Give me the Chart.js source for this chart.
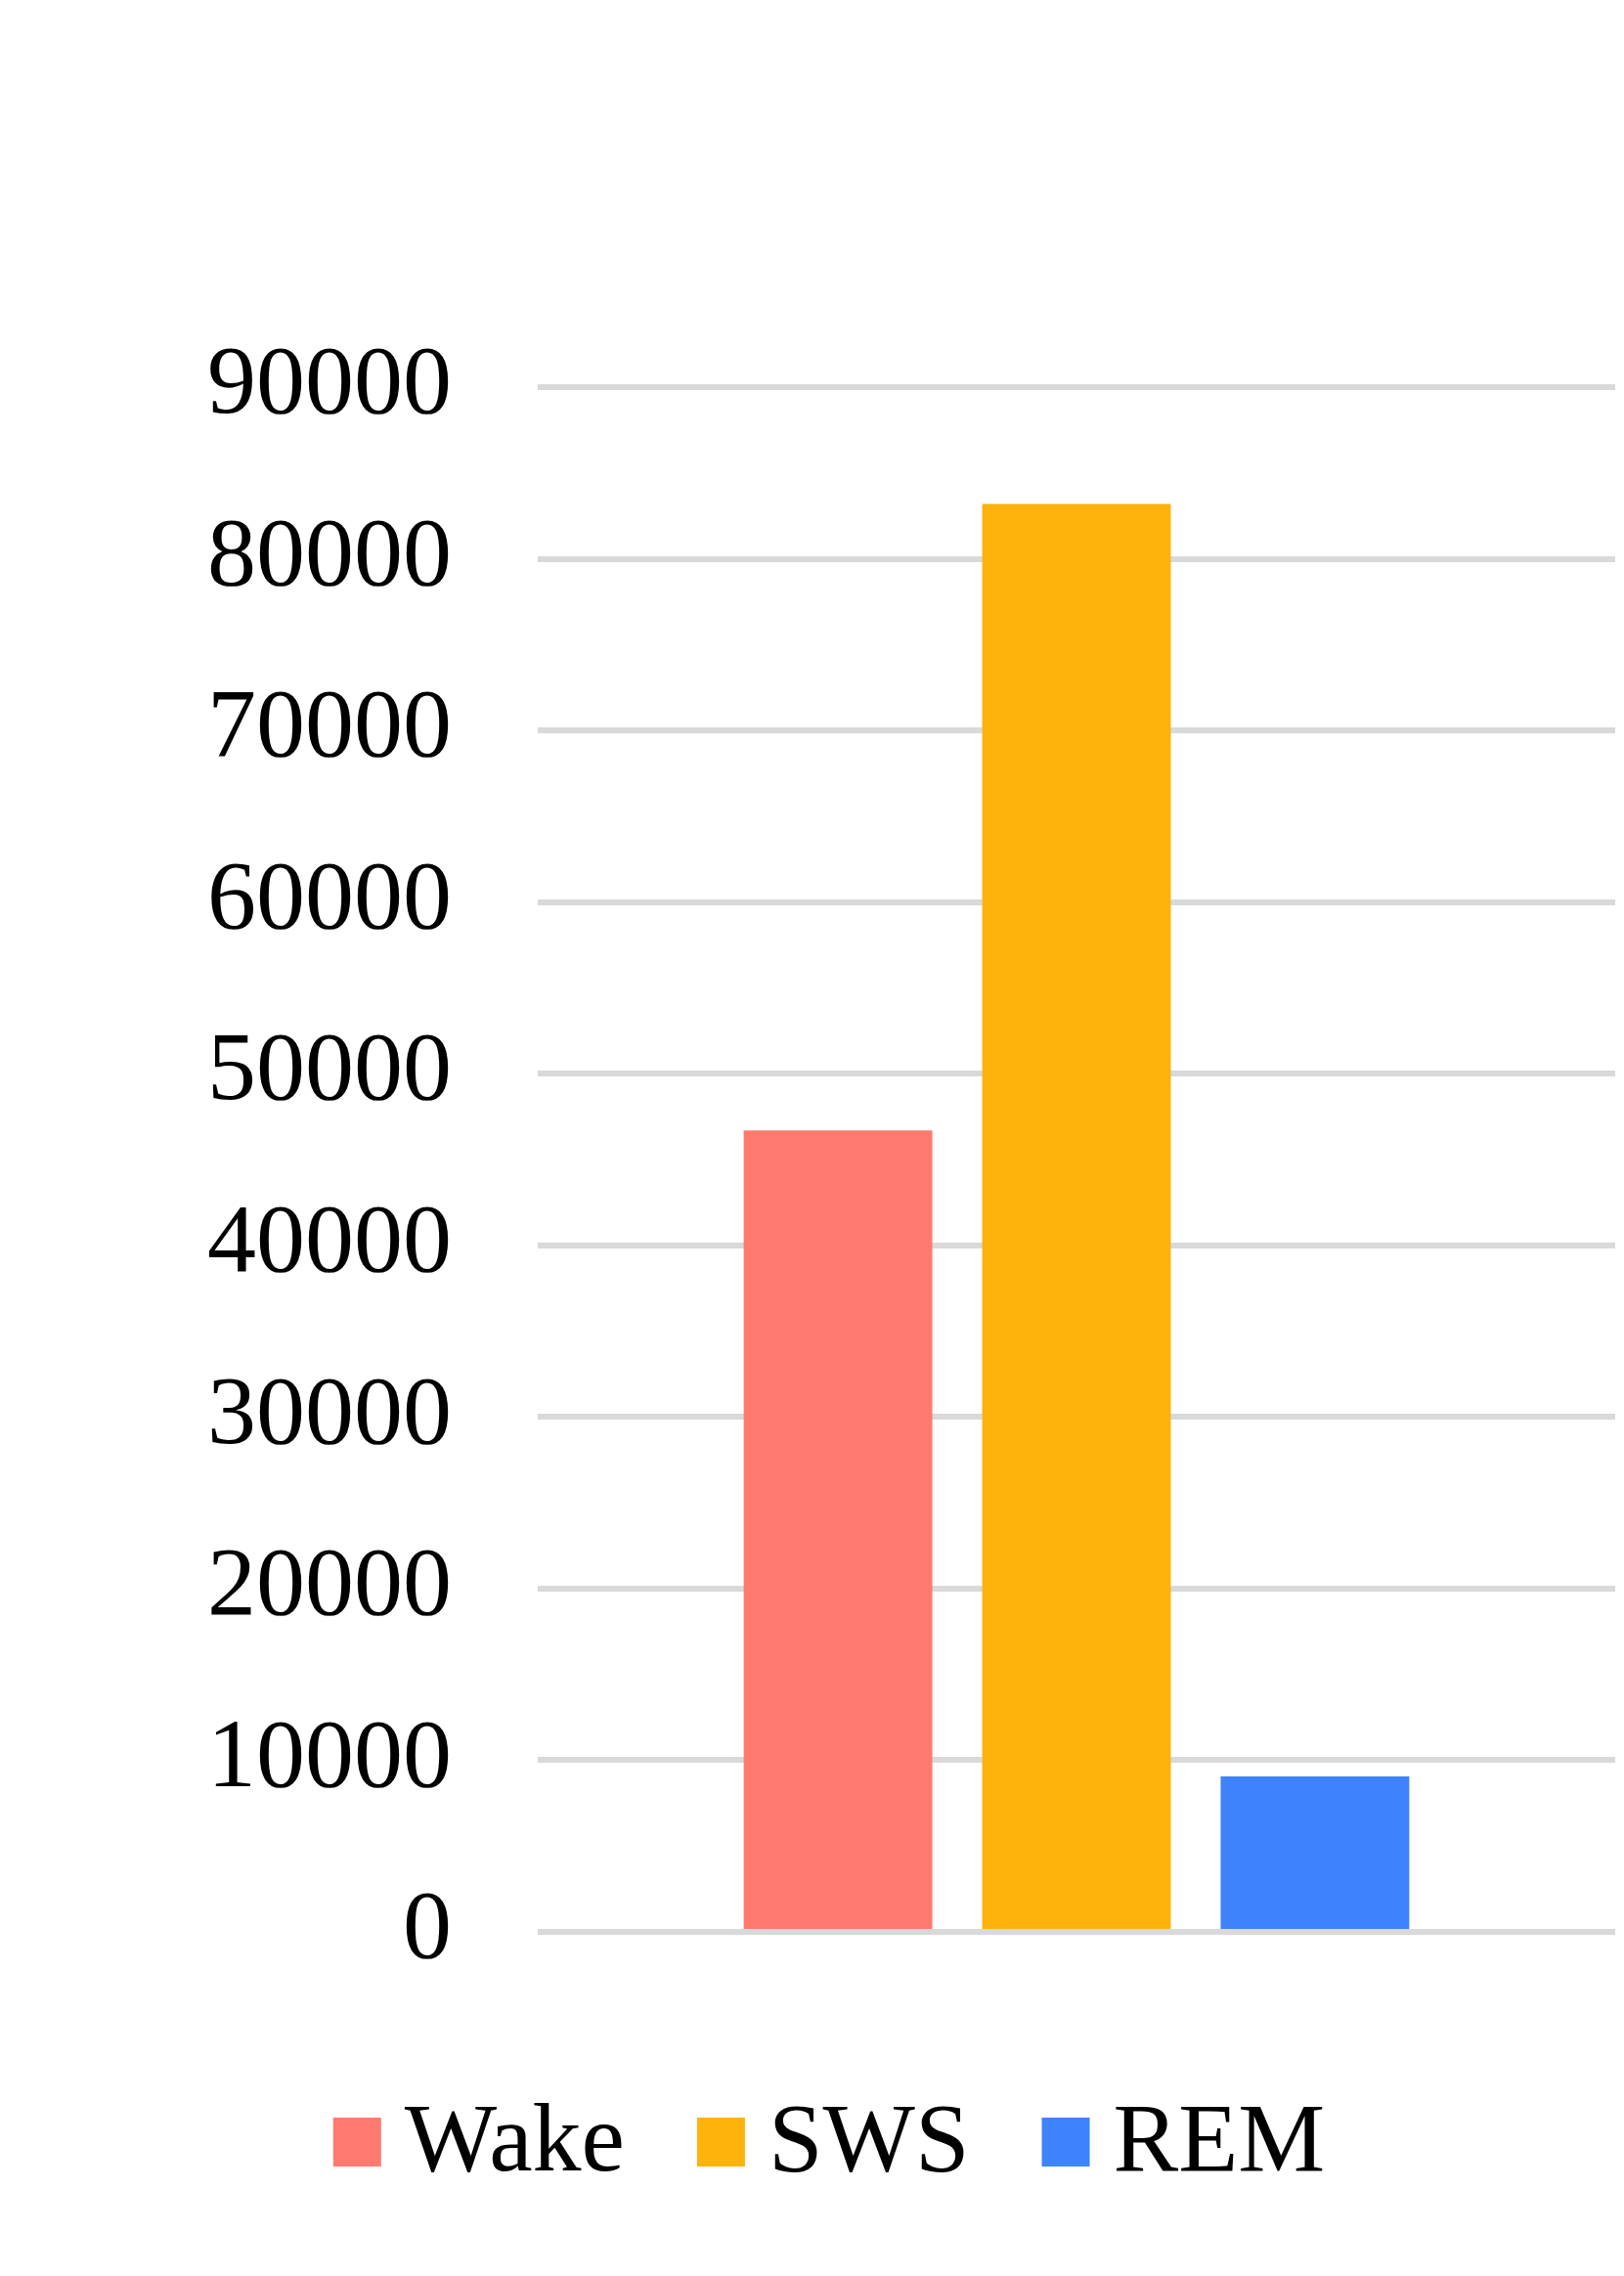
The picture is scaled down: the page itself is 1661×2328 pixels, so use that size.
<!DOCTYPE html>
<html>
<head>
<meta charset="utf-8">
<script src="https://cdn.jsdelivr.net/npm/chart.js@4/dist/chart.umd.min.js"></script>
<style>
  html, body { margin: 0; padding: 0; background: #fff; }
  #wrap { width: 1661px; height: 2328px; }
</style>
</head>
<body>
<div id="wrap"><canvas id="stageChart" width="1661" height="2328"></canvas></div>
<script>
// Sleep stage totals
const stages = ['Wake', 'SWS', 'REM'];
const stageValues = [46700, 83200, 9060];
const stageColors = ['#FF7A6E', '#FEB20C', '#3F83FC'];
const yTicks = [0, 10000, 20000, 30000, 40000, 50000, 60000, 70000, 80000, 90000];

const FONT = '"Liberation Serif", "Times New Roman", serif';

// Excel style legend: small square, tight gap to the label
const bottomLegend = {
    id: 'bottomLegend',
    afterDraw(chart) {
        const ctx = chart.ctx;
        const box = 49, boxH = 50, gap = 24, itemGap = 74;
        ctx.save();
        ctx.font = '100px ' + FONT;
        ctx.textBaseline = 'alphabetic';
        ctx.textAlign = 'left';
        const widths = chart.data.datasets.map(ds => ctx.measureText(ds.label).width);
        let total = 0;
        widths.forEach((w, i) => { total += box + gap + w + (i ? itemGap : 0); });
        let x = 848 - total / 2;
        chart.data.datasets.forEach((ds, i) => {
            ctx.fillStyle = ds.backgroundColor;
            ctx.fillRect(x, 2166, box, boxH);
            ctx.fillStyle = '#000';
            ctx.fillText(ds.label, x + box + gap, 2220);
            x += box + gap + widths[i] + itemGap;
        });
        ctx.restore();
    }
};

const ctx = document.getElementById('stageChart').getContext('2d');
new Chart(ctx, {
    type: 'bar',
    data: {
        labels: [''],
        datasets: stages.map((name, i) => ({
            label: name,
            data: [stageValues[i]],
            backgroundColor: stageColors[i],
            borderWidth: 0,
            categoryPercentage: 0.664,
            barPercentage: 0.791
        }))
    },
    options: {
        responsive: false,
        animation: false,
        devicePixelRatio: 1,
        layout: { padding: { top: 396, right: 9, bottom: 352, left: 40 } },
        plugins: {
            legend: { display: false },
            tooltip: { enabled: false }
        },
        scales: {
            x: { display: false },
            y: {
                min: 0,
                max: 90000,
                afterFit: s => { s.width = 510; },
                afterBuildTicks: s => { s.ticks = yTicks.map(v => ({ value: v })); },
                border: { display: false },
                grid: { color: '#D9D9D9', lineWidth: 6, drawTicks: false },
                ticks: {
                    padding: 88,
                    color: '#000',
                    font: { family: FONT, size: 100 },
                    callback: v => String(v)
                }
            }
        }
    },
    plugins: [bottomLegend]
});
</script>
</body>
</html>
